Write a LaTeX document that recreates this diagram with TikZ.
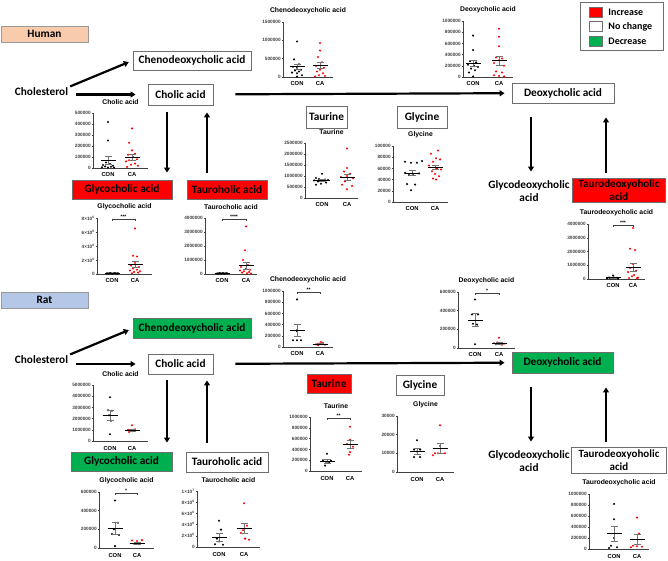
\documentclass[tikz,border=0pt]{standalone}
\usepackage{fontspec}
\setmainfont{Carlito}
\newfontfamily\plotfont{Liberation Sans}
\usetikzlibrary{
  arrows.meta,
  calc,
  positioning,
}

\definecolor{upred}{HTML}{FF0000}
\definecolor{downgreen}{HTML}{00B050}
\definecolor{humanbg}{HTML}{F8CBAD}
\definecolor{ratbg}{HTML}{B4C7E7}
\definecolor{boxline}{HTML}{6E6E6E}

% dot plot: origin, height, width, title, ticks, CON dots, CA dots, means, stars
\newcommand{\dotplot}[9]{%
  \begin{scope}[shift={#1},yscale=-1]
    \draw[axisln] (0,#2) -- (0,0) -- (#3,0);
    \foreach \h/\lab in {#5}
      \draw[axisln] (0,\h) -- (-1.5,\h) node[ticklbl] {\lab};
    \node[ptitle] at (#3/2,#2+11) {#4};
    \foreach \x/\y in {#6} \fill[condot] (\x,\y) circle (1.15);
    \foreach \x/\y in {#7} \fill[cadot] (\x,\y) circle (1.15);
    \foreach \conx/\conm/\cone/\cax/\cam/\cae in {#8} {
      \draw[errln] (\conx,\conm-\cone) -- (\conx,\conm+\cone)
        (\conx-3.5,\conm-\cone) -- (\conx+3.5,\conm-\cone)
        (\conx-3.5,\conm+\cone) -- (\conx+3.5,\conm+\cone);
      \draw[errln] (\cax,\cam-\cae) -- (\cax,\cam+\cae)
        (\cax-3.5,\cam-\cae) -- (\cax+3.5,\cam-\cae)
        (\cax-3.5,\cam+\cae) -- (\cax+3.5,\cam+\cae);
      \draw[meanln] (\conx-7.5,\conm) -- (\conx+7.5,\conm);
      \draw[meanln] (\cax-7.5,\cam) -- (\cax+7.5,\cam);
      \node[grplbl] at (\conx,-7) {CON};
      \node[grplbl] at (\cax,-7) {CA};
      \if\relax\detokenize{#9}\relax\else
        \draw[axisln] (\conx,#2-3) -- (\conx,#2-1) -- (\cax,#2-1) -- (\cax,#2-3);
        \node[stars] at (\conx/2+\cax/2,#2-1) {#9};
      \fi
    }
  \end{scope}}

\begin{document}
\begin{tikzpicture}[x=1pt,y=-1pt,
  >={Triangle[length=5pt,width=6pt]},
  lbl/.style={inner sep=1pt,font=\fontsize{11.3}{13}\selectfont\bfseries},
  samebox/.style={lbl,draw=boxline,line width=.9pt,inner sep=0pt,align=center},
  incbox/.style={samebox,fill=upred},
  decbox/.style={samebox,fill=downgreen},
  flowarr/.style={->,line width=2.2pt},
  legsq/.style={draw=boxline,line width=.5pt,minimum width=13pt,minimum height=10pt,inner sep=0pt},
  legtxt/.style={inner sep=0pt,font=\fontsize{10}{12}\selectfont\bfseries},
  axisln/.style={line width=.5pt,black!75},
  ticklbl/.style={anchor=east,inner sep=.6pt,font=\plotfont\bfseries\fontsize{4.7}{5.5}\selectfont},
  ptitle/.style={font=\plotfont\bfseries\fontsize{6.8}{8}\selectfont},
  grplbl/.style={font=\plotfont\bfseries\fontsize{5.8}{7}\selectfont},
  stars/.style={anchor=south,inner sep=0pt,font=\plotfont\bfseries\fontsize{5}{6}\selectfont},
  condot/.style={fill=black},
  cadot/.style={fill=upred},
  meanln/.style={line width=.7pt,black},
  errln/.style={line width=.5pt,black!55}]
  \useasboundingbox (0,0) rectangle (668,561);
  %% legend
  \node[draw=boxline,line width=.6pt,minimum width=83pt,minimum height=48pt] (legend) at (621.5,26) {};
  \node[legsq,fill=upred] (kinc) at (595.5,12) {};
  \node[legsq,fill=white] (ksame) at (595.5,26.7) {};
  \node[legsq,fill=downgreen] (kdec) at (595.5,41) {};
  \node[legtxt,right=6pt of kinc] {Increase};
  \node[legtxt,right=6pt of ksame] {No change};
  \node[legtxt,right=6pt of kdec] {Decrease};
  %% human pathway
  \node[samebox,fill=humanbg,draw=boxline!70,minimum width=87pt,minimum height=16pt] (human) at (44.5,34) {Human};
  \node[lbl] (hchol) at (41.5,92) {Cholesterol};
  \node[samebox,minimum width=118pt,minimum height=19pt] (hcdca) at (192,60.5) {Chenodeoxycholic acid};
  \node[samebox,minimum width=65pt,minimum height=21pt] (hca) at (180.5,94.5) {Cholic acid};
  \node[incbox,minimum width=100pt,minimum height=19pt] (hgca) at (122,189.5) {Glycocholic acid};
  \node[incbox,minimum width=80pt,minimum height=19pt] (htca) at (227,189.5) {Tauroholic acid};
  \node[samebox,minimum width=41pt,minimum height=22pt] (htau) at (326.5,117) {Taurine};
  \node[samebox,minimum width=50pt,minimum height=22pt] (hgly) at (422,117) {Glycine};
  \node[samebox,minimum width=102pt,minimum height=20pt] (hdca) at (563,93) {Deoxycholic acid};
  \node[lbl,align=center] (hgdca) at (529,191) {Glycodeoxycholic\\acid};
  \node[incbox,minimum width=93pt,minimum height=24pt,font=\fontsize{11}{13}\selectfont\bfseries] (htdca) at (619,190) {Taurodeoxyoholic\\acid};
  \coordinate (hcaL) at ([xshift=-13.5pt]hca.south);
  \coordinate (hcaR) at ([xshift=26.5pt]hca.south);
  \coordinate (hdcaL) at ([xshift=-32pt]hdca.south);
  \coordinate (hdcaR) at ([xshift=43pt]hdca.south);
  \draw[flowarr,shorten <=1pt,shorten >=4pt] (hchol.north east) -- (hcdca.west);
  \draw[flowarr,shorten <=7pt,shorten >=12pt] (hchol.east |- hca) -- (hca);
  \draw[flowarr,shorten <=22pt,shorten >=7pt] (hca) -- (hdca);
  \draw[flowarr,shorten <=7pt,shorten >=7pt] (hcaL) -- (hcaL |- hgca.north);
  \draw[flowarr,shorten <=7pt,shorten >=7pt] (hcaR |- htca.north) -- (hcaR);
  \draw[flowarr,shorten <=14pt,shorten >=6pt] (hdcaL) -- (hdcaL |- htdca.north);
  \draw[flowarr,shorten <=5pt,shorten >=14pt] (hdcaR |- htdca.north) -- (hdcaR);
  %% human plots
  \dotplot{(283,77)}{55}{50}{Chenodeoxycholic acid}
    {0/0,18.33/500000,36.67/1000000,55/1500000}
    {14/35.5,11/17.6,16/12.8,10/10.3,14/9.2,18/7.3,12/6.6,16/5.5,9/4.4,14/3.7,19/1.8,14/0.4}
    {37/34,37/26.4,35/20,39/14.7,33/11,41/9.2,37/7.3,34/5.5,40/3.7,36/1.8,42/1,32/0.6}
    {14/10.3/2.9/37/11.4/2.9}{}
  \dotplot{(463,77)}{56}{50}{Deoxycholic acid}
    {0/0,11.2/200000,22.4/400000,33.6/600000,44.8/800000,56/1000000}
    {10/41.4,10/26.9,7/15.7,13/14.6,5/12.3,11/11.2,15/10,8/8.4,12/6.7,6/4.5,10/0.6}
    {36/48.2,36/40.3,36/30.8,33/19.6,39/18.5,36/16.8,31/14,41/11.2,33/5.6,39/4.5,31/1.7,36/1.1,41/0.6}
    {10/13.4/3.1/36/16.2/4.2}{}
  \dotplot{(93,168)}{55}{55}{Cholic acid}
    {0/0,11/100000,22/200000,33/300000,44/400000,55/500000}
    {15/46,15/27.5,13/5.5,17/4,10/3,20/2.2,12/1.6,18/1.2,9/0.8,15/0.5,21/0.4}
    {39/39.6,36/25.3,39/17.6,42/14.3,35/13.2,40/11,44/8.8,36/7.7,33/6.6,42/4.4,38/3.3,45/2.2,34/1.1}
    {15/7.7/4.2/39/11/2.8}{}
  \dotplot{(97,274)}{56}{55}{Glycocholic acid}
    {0/0,14/2×10\textsuperscript{6},28/4×10\textsuperscript{6},42/6×10\textsuperscript{6},56/8×10\textsuperscript{6}}
    {10/0.8,12/0.6,14/0.7,16/0.5,18/0.9,20/0.6,11/0.4,13/1,15/0.3,17/0.8,19/0.4,21/0.7}
    {38/45.5,36/18.2,40/17.5,38/11.2,34/8.4,42/7,36/5.6,40/4.2,33/3.5,43/2.8,37/2.1,41/1.4,35/0.7}
    {15/0.6/0.1/38/9.8/3.3}{***}
  \dotplot{(205,274)}{56}{52}{Taurocholic acid}
    {0/0,14/1000000,28/2000000,42/3000000,56/4000000}
    {12/0.6,14/0.8,16/0.4,18/0.9,20/0.5,22/0.7,13/0.3,15/1,17/0.6,19/0.4,21/0.8}
    {41/47.6,40/23.8,38/14,43/9,36/7,41/5.6,45/4.2,35/3.5,39/2.8,44/2.1,37/1.4,42/0.7,46/0.5}
    {17/0.6/0.1/41/8.4/3.5}{****}
  \dotplot{(305,198)}{55}{53}{Taurine}
    {0/0,11/500000,22/1000000,33/1500000,44/2000000,55/2500000}
    {17/24.2,11/20,14/19,20/18.5,23/18,9/17.6,17/17,13/16.5,21/15.4,16/14.3,11/13.2}
    {42/49.5,42/30,39/26.4,45/24.2,42/22,36/20.9,48/19.8,40/16.5,37/13.2,47/12.1,42/8.8}
    {17/17.6/0.9/42/20.9/2.9}{}
  \dotplot{(393,202)}{56}{55}{Glycine}
    {0/0,11.2/20000,22.4/40000,33.6/60000,44.8/80000,56/100000}
    {12/40.3,18/39.2,24/39.2,29/40.9,12/29.1,20/28,26/28.6,16/26.9,14/17.9,22/17.4,18/11.8}
    {45/51.5,38/48.2,43/43.7,47/42.6,40/40.3,36/36.4,44/33.6,48/32.5,39/30.8,42/28,46/25.8,40/23.5,43/22.4}
    {19/29.1/2.8/42/34.7/2.4}{}
  \dotplot{(588,279)}{55}{57}{Taurodeoxycholic acid}
    {0/0,13.75/1000000,27.5/2000000,41.25/3000000,55/4000000}
    {25/3.4,21/1.5,23/1,27/0.8,29/1.2,19/0.6,24/0.5,26/1.4,30/0.4,22/0.9,28/0.7}
    {45/51,42/30.3,47/28.9,45/15.1,42/11,48/8.3,40/6.9,46/4.1,44/2.8,50/1.4,41/1,49/0.7}
    {25/1.2/0.3/45/11.7/3.9}{***}
  %% rat pathway
  \node[samebox,fill=ratbg,draw=boxline!70,minimum width=87pt,minimum height=16pt] (rat) at (44.5,300) {Rat};
  \node[lbl] (rchol) at (41.5,360) {Cholesterol};
  \node[decbox,minimum width=118pt,minimum height=20pt] (rcdca) at (192,328.5) {Chenodeoxycholic acid};
  \node[samebox,minimum width=65pt,minimum height=20pt] (rca) at (180.5,364) {Cholic acid};
  \node[decbox,minimum width=101pt,minimum height=19pt] (rgca) at (121.5,461.5) {Glycocholic acid};
  \node[samebox,minimum width=82pt,minimum height=20pt] (rtca) at (227,462) {Tauroholic acid};
  \node[incbox,minimum width=44pt,minimum height=19pt] (rtau) at (329,384) {Taurine};
  \node[samebox,minimum width=48pt,minimum height=20pt] (rgly) at (420,385) {Glycine};
  \node[decbox,minimum width=101pt,minimum height=21pt] (rdca) at (562.5,362.5) {Deoxycholic acid};
  \node[lbl,align=center] (rgdca) at (529,461) {Glycodeoxycholic\\acid};
  \node[samebox,minimum width=95pt,minimum height=26pt,font=\fontsize{11}{13}\selectfont\bfseries] (rtdca) at (619,460) {Taurodeoxyoholic\\acid};
  \coordinate (rcaL) at ([xshift=-13.5pt]rca.south);
  \coordinate (rcaR) at ([xshift=26.5pt]rca.south);
  \coordinate (rdcaL) at ([xshift=-31.5pt]rdca.south);
  \coordinate (rdcaR) at ([xshift=43.5pt]rdca.south);
  \draw[flowarr,shorten <=1pt,shorten >=4pt] (rchol.north east) -- (rcdca.west);
  \draw[flowarr,shorten <=7pt,shorten >=12pt] (rchol.east |- rca) -- (rca);
  \draw[flowarr,shorten <=22pt,shorten >=7pt] (rca) -- (rdca);
  \draw[flowarr,shorten <=6pt,shorten >=9pt] (rcaL) -- (rcaL |- rgca.north);
  \draw[flowarr,shorten <=9pt,shorten >=6pt] (rcaR |- rtca.north) -- (rcaR);
  \draw[flowarr,shorten <=14pt,shorten >=5pt] (rdcaL) -- (rdcaL |- rtdca.north);
  \draw[flowarr,shorten <=5pt,shorten >=14pt] (rdcaR |- rtdca.north) -- (rdcaR);
  %% rat plots
  \dotplot{(283,347)}{56}{50}{Chenodeoxycholic acid}
    {0/0,11.2/200000,22.4/400000,33.6/600000,44.8/800000,56/1000000}
    {14/47.6,14/16.8,14/15.7,10/6.7,14/6.7,18/6.7}
    {33/2.8,36/3.4,38/5,40/3.9,42/2.2,35/1.7}
    {14/16.8/6.2/37/3.1/0.6}{**}
  \dotplot{(458,348)}{56}{57}{Deoxycholic acid}
    {0/0,18.67/200000,37.33/400000,56/600000}
    {17/48.5,14/33.6,20/33.6,15/24.3,19/23.4,17/3.7}
    {41/10.3,36/4.7,39/5.6,43/5.1,46/4.2,38/3.7,44/3.3}
    {17/28/6.5/41/5.1/1}{*}
  \dotplot{(93,441)}{56}{55}{Cholic acid}
    {0/0,11.2/1000000,22.4/2000000,33.6/3000000,44.8/4000000,56/5000000}
    {17/43.7,15/30.8,19/30.2,16/25.8,18/20.2,17/6.7}
    {39/15.7,35/11.2,42/11.8,37/10.1,41/10.6,36/9}
    {17/25.8/5/39/10.6/1.1}{}
  \dotplot{(99,548)}{56}{55}{Glycocholic acid}
    {0/0,18.67/200000,37.33/400000,56/600000}
    {16/47.6,19/25.2,15/18.7,13/14,20/13.1,16/1.9}
    {33/7.5,38/7,43/7.9,36/4.7,40/3.7,35/4.2}
    {16/19.6/6.3/38/4.7/0.9}{*}
  \dotplot{(197,547)}{56}{63}{Taurocholic acid}
    {0/0,11.2/2×10\textsuperscript{6},22.4/4×10\textsuperscript{6},33.6/6×10\textsuperscript{6},44.8/8×10\textsuperscript{6},56/1×10\textsuperscript{7}}
    {22/26.3,24/17.4,20/8.4,22/5.6,18/2.8,26/2.2}
    {47/43.7,50/21.3,46/16.8,44/14,48/8.4,52/7.3}
    {22/9.5/3.9/47/18.5/5}{}
  \dotplot{(310,471)}{54}{52}{Taurine}
    {0/0,10.8/200000,21.6/400000,32.4/600000,43.2/800000,54/1000000}
    {17/17.3,13/10.8,21/10.3,16/9.2,19/8.1,15/5.4}
    {40/44.3,40/31.3,37/27,43/24.3,40/18.9,39/16.2}
    {17/9.7/1.6/40/27/4}{**}
  \dotplot{(397,472)}{56}{57}{Glycine}
    {0/0,18.67/10000,37.33/20000,56/30000}
    {20/31.7,17/22.4,23/22.4,20/20.5,17/14.9,23/14.9}
    {43/46.7,43/26.1,38/18.7,41/18.7,48/18.7,36/16.8}
    {20/20.9/2.8/43/23.9/4.9}{}
  \dotplot{(589,549)}{55}{60}{Taurodeoxycholic acid}
    {0/0,11/200000,22/400000,33/600000,44/800000,55/1000000}
    {25/45.1,25/29.7,25/11,22/3.3,28/1.7,20/1.1}
    {48/31.4,50/15.4,44/3.3,48/2.8,53/2.2,42/1.7}
    {25/15.4/7.2/48/9.4/4.9}{}
\end{tikzpicture}
\end{document}
